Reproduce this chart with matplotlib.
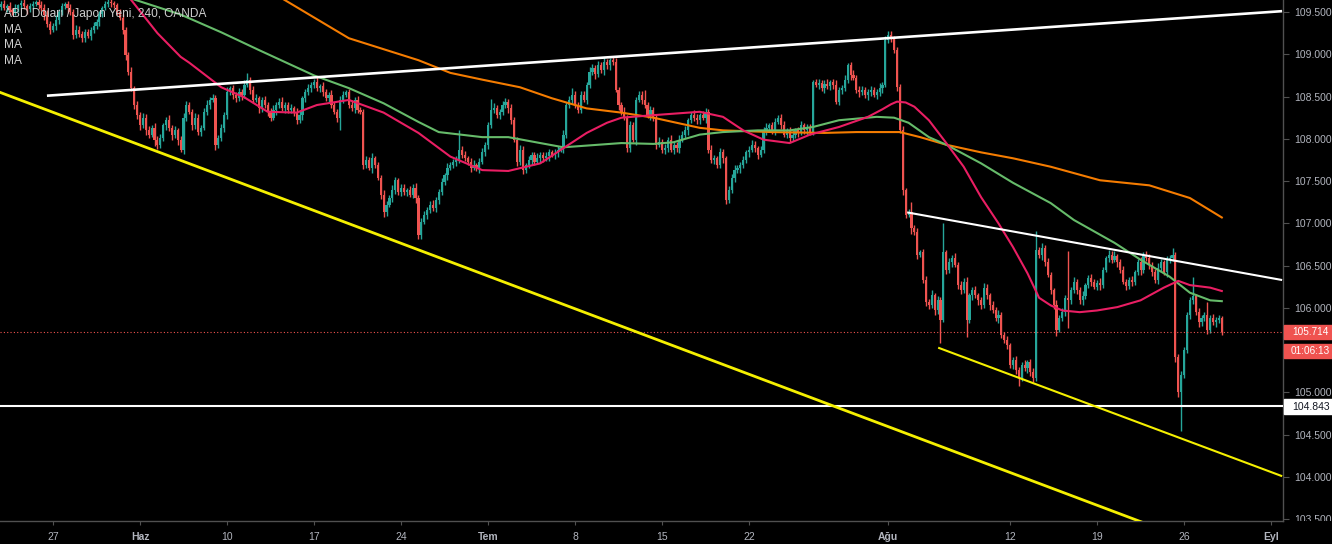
import numpy as np
import matplotlib
matplotlib.use('Agg')
import matplotlib.pyplot as plt
from matplotlib.patches import Rectangle
from matplotlib.transforms import Bbox

# ---------------- data (USD/JPY, 240 min bars) ----------------
first_open = 109.56
closes = [
109.60,109.55,109.57,109.52,109.50,109.55,109.58,109.61,109.57,109.53,
109.57,109.60,109.62,109.58,109.55,109.46,109.36,109.29,109.33,109.41,
109.50,109.57,109.60,109.55,109.50,109.23,109.29,109.24,109.19,109.26,
109.22,109.29,109.33,109.38,109.48,109.55,109.60,109.62,109.61,109.58,
109.50,109.43,109.29,108.99,108.79,108.60,108.40,108.28,108.16,108.25,
108.10,108.05,108.13,107.99,107.93,108.01,108.16,108.22,108.13,108.05,
108.10,107.99,107.87,108.25,108.40,108.32,108.16,108.25,108.08,108.13,
108.32,108.40,108.46,108.48,107.93,108.01,108.13,108.28,108.55,108.60,
108.52,108.48,108.55,108.52,108.64,108.70,108.58,108.46,108.48,108.36,
108.46,108.40,108.32,108.25,108.34,108.40,108.44,108.36,108.40,108.34,
108.36,108.32,108.22,108.28,108.48,108.55,108.60,108.64,108.67,108.60,
108.62,108.55,108.48,108.52,108.40,108.32,108.25,108.46,108.52,108.55,
108.40,108.36,108.46,108.34,108.32,107.69,107.75,107.66,107.77,107.69,
107.54,107.34,107.13,107.22,107.30,107.39,107.51,107.37,107.42,107.37,
107.39,107.34,107.42,107.30,106.86,107.02,107.10,107.16,107.22,107.18,
107.28,107.37,107.49,107.57,107.66,107.69,107.73,107.75,107.87,107.81,
107.77,107.73,107.66,107.69,107.66,107.73,107.84,107.93,108.16,108.34,
108.36,108.28,108.32,108.40,108.44,108.36,108.22,107.99,107.73,107.87,
107.63,107.69,107.75,107.81,107.73,107.77,107.81,107.77,107.80,107.84,
107.81,107.83,107.87,107.89,108.05,108.40,108.46,108.52,108.40,108.34,
108.52,108.46,108.64,108.79,108.84,108.77,108.87,108.81,108.91,108.87,
108.93,108.91,108.58,108.40,108.32,108.25,107.89,108.16,107.99,108.46,
108.52,108.46,108.40,108.28,108.34,108.25,107.93,107.96,107.87,107.89,
107.99,107.87,107.93,107.89,107.99,108.05,108.10,108.22,108.28,108.25,
108.22,108.28,108.25,108.32,107.87,107.75,107.77,107.69,107.84,107.77,
107.28,107.39,107.54,107.63,107.66,107.69,107.75,107.84,107.87,107.93,
107.89,107.81,107.87,108.10,108.13,108.16,108.10,108.20,108.25,108.16,
108.05,108.10,108.01,108.05,108.10,108.08,108.16,108.10,108.13,108.08,
108.67,108.64,108.66,108.60,108.65,108.62,108.67,108.64,108.44,108.58,
108.60,108.70,108.87,108.75,108.72,108.58,108.55,108.58,108.52,108.55,
108.58,108.52,108.55,108.60,108.64,109.17,109.23,109.19,109.05,108.61,
108.10,107.39,107.10,107.13,106.94,106.90,106.63,106.66,106.33,106.07,
106.03,106.15,105.97,106.09,105.86,106.66,106.45,106.54,106.59,106.51,
106.27,106.21,106.31,105.86,106.15,106.21,106.15,106.09,106.03,106.24,
106.15,106.03,105.97,105.88,105.92,105.68,105.62,105.56,105.32,105.38,
105.27,105.17,105.32,105.29,105.36,105.24,105.17,106.68,106.63,106.71,
106.54,106.39,106.21,106.03,105.74,105.88,105.95,106.12,106.09,106.21,
106.31,106.21,106.09,106.14,106.27,106.35,106.31,106.25,106.29,106.27,
106.45,106.59,106.63,106.57,106.61,106.54,106.45,106.31,106.26,106.33,
106.31,106.42,106.54,106.45,106.63,106.59,106.51,106.42,106.33,106.47,
106.54,106.42,106.57,106.59,106.63,105.42,105.00,105.21,105.50,105.92,
106.09,106.14,105.95,105.83,105.88,105.92,105.74,105.88,105.83,105.86,
105.88,105.714]

# wick extents beyond the body, in hundredths of a yen
wick_up = [
3,4,2,5,3,4,2,3,4,3, 4,3,2,3,5,4,6,3,4,5, 3,4,2,3,5,4,6,5,3,4, 4,3,5,4,3,2,3,4,3,2,
3,4,5,3,4,6,3,5,4,6, 4,5,3,6,4,5,3,4,6,3, 5,3,4,6,5,4,3,5,4,3, 4,6,3,5,4,3,5,4,6,3,
4,3,5,4,6,8,3,4,5,3, 4,5,3,4,6,3,4,5,3,4, 5,3,4,6,3,4,5,3,4,6, 3,5,4,3,6,4,3,5,4,3,
4,6,3,5,4,3,5,4,6,3, 4,3,5,4,3,6,4,3,5,4, 3,5,4,6,3,4,5,3,4,6, 3,4,5,3,6,4,3,5,23,4,
5,3,4,6,3,4,5,3,4,13, 6,4,3,5,4,3,5,4,3,6, 4,3,5,4,3,6,4,3,5,4, 3,5,4,3,6,4,5,8,4,3,
5,4,3,6,4,3,5,4,6,3, 3,4,5,3,4,6,3,5,4,3, 5,4,12,3,5,4,3,6,4,5, 3,5,4,3,6,4,5,3,4,6,
4,3,5,4,3,6,4,3,5,4, 3,5,4,6,3,4,5,3,4,6, 4,3,5,4,6,3,4,5,3,4, 5,3,4,6,3,4,5,3,4,5,
3,4,5,3,4,6,3,4,5,3, 4,5,3,4,6,3,4,5,3,4, 5,3,4,6,3,5,5,4,3,4, 4,5,3,4,12,4,5,3,4,5,
4,6,3,5,4,34,3,5,4,6, 3,5,4,6,3,4,5,3,4,6, 4,3,5,4,6,3,4,5,3,4, 5,3,4,6,3,4,5,23,4,6,
3,5,4,3,6,4,5,3,55,4, 5,3,4,6,3,4,5,3,4,6, 4,3,5,4,6,3,4,5,3,4, 5,3,4,6,3,4,5,3,4,6,
4,3,5,4,8,3,4,5,4,3, 4,23,3,5,4,3,15,4,5,3, 4,3]
wick_dn = [
4,3,5,2,4,3,5,4,3,5, 3,4,3,5,4,6,4,5,3,4, 5,3,4,6,3,5,4,3,5,4, 3,5,4,3,5,4,3,4,5,3,
4,3,5,6,4,3,5,4,6,3, 5,4,3,8,5,4,3,5,4,6, 4,6,3,5,4,3,5,4,3,5, 3,4,5,3,6,4,3,5,4,3,
5,4,3,6,4,3,5,4,3,6, 4,3,5,4,3,6,4,3,5,4, 3,5,4,3,6,4,3,5,4,3, 5,4,3,6,4,3,5,15,4,3,
4,3,5,4,3,5,4,3,6,4, 3,5,6,4,3,5,4,3,5,4, 5,3,4,6,5,4,3,5,4,3, 4,5,3,4,6,3,4,5,3,4,
3,4,5,3,4,6,3,4,5,3, 4,3,5,4,3,6,4,3,5,4, 5,4,3,6,4,3,5,4,3,6, 3,5,4,3,6,4,3,5,4,3,
4,3,5,4,3,6,4,3,5,4, 5,4,3,6,4,3,5,4,3,6, 3,5,4,3,6,4,5,3,4,5, 4,3,5,4,6,3,4,5,3,4,
5,4,3,6,4,3,5,4,3,5, 5,4,3,5,4,6,3,4,5,3, 4,5,3,4,6,3,4,5,3,4, 3,4,5,3,4,6,3,4,5,3,
4,3,5,4,6,3,4,5,3,4, 5,3,4,6,3,4,5,3,4,6, 4,3,5,4,6,3,4,5,3,4, 3,5,4,3,6,4,5,3,4,5,
4,3,5,4,27,3,5,4,6,3, 5,4,3,20,4,6,3,5,4,3, 4,5,3,4,6,3,4,5,3,4, 5,9,4,3,6,4,5,3,4,6,
4,3,5,4,7,3,4,5,33,4, 3,5,4,6,3,4,5,3,4,6, 4,3,5,4,3,6,4,3,5,4, 5,4,3,6,4,3,5,4,3,5,
4,3,5,4,3,6,5,46,4,3, 5,4,3,6,4,3,5,4,3,6, 4,3]

# moving averages (bar index, price)
ma_fast_k = [44,45,54,62,65,76,84,92,102,109,120,132,144,155,166,175,186,194,202,209,
             214,225,241,249,256,263,272,279,289,299,304,307,309,312,315,320,326,332,338,344,
             349,354,358,362,366,372,378,385,393,401,406,410,417,421]
ma_fast_p = [109.68,109.64,109.25,108.97,108.90,108.61,108.49,108.32,108.31,108.40,
             108.46,108.31,108.07,107.79,107.63,107.62,107.71,107.89,108.07,108.19,
             108.25,108.28,108.32,108.26,108.10,107.99,107.95,108.05,108.14,108.26,
             108.35,108.41,108.44,108.43,108.38,108.22,107.95,107.67,107.31,107.00,
             106.72,106.41,106.12,106.03,105.97,105.95,105.97,106.01,106.09,106.24,
             106.32,106.27,106.24,106.20]
ma_mid_k = [44,62,76,89,108,120,132,144,151,166,175,186,194,202,214,225,232,241,249,261,
            272,280,289,302,308,313,320,326,338,349,362,370,384,393,403,410,417,421]
ma_mid_p = [109.67,109.47,109.26,109.05,108.75,108.60,108.42,108.20,108.08,108.02,
            108.02,107.95,107.90,107.92,107.95,107.94,107.96,108.05,108.08,108.10,
            108.10,108.14,108.22,108.26,108.25,108.19,108.02,107.93,107.71,107.48,
            107.24,107.04,106.77,106.57,106.37,106.18,106.09,106.08]
ma_slow_k = [97,120,144,155,166,179,190,202,214,225,241,249,266,284,295,310,317,326,338,349,
             362,379,396,410,421]
ma_slow_p = [109.66,109.19,108.93,108.78,108.70,108.61,108.48,108.36,108.31,108.25,
             108.13,108.10,108.08,108.07,108.08,108.08,108.02,107.93,107.84,107.77,
             107.67,107.51,107.45,107.30,107.07]

# drawn trend lines (bar index, price)
res_line_k, res_line_p = [15.9, 441.8], [108.51, 109.51]
chan_top_k, chan_top_p = [312.5, 441.8], [107.13, 106.33]
yel_long_k, yel_long_p = [-0.3, 442.0], [108.55, 102.84]
yel_short_k, yel_short_p = [323.2, 441.8], [105.53, 104.01]
support_level = 104.843
last_price = 105.714
countdown = "01:06:13"

tick_k = [18, 48, 78, 108, 138, 168, 198, 228, 258, 306, 348, 378, 408, 438]
tick_lbl = ['27', 'Haz', '10', '17', '24', 'Tem', '8', '15', '22', 'Ağu', '12', '19', '26', 'Eyl']
month_lbl = {'Haz', 'Tem', 'Ağu', 'Eyl'}
price_ticks = [103.5, 104.0, 104.5, 105.0, 105.5, 106.0, 106.5, 107.0, 107.5, 108.0, 108.5, 109.0, 109.5]
hidden_price_ticks = {105.5}   # covered by the countdown box in the reference

title = "ABD Doları / Japon Yeni, 240, OANDA"
legend_rows = ["MA", "MA", "MA"]

# ---------------- styling ----------------
UP, DN = '#26a69a', '#ef5350'
FONT = ['Liberation Sans', 'DejaVu Sans']
plt.rcParams['font.family'] = FONT
LBL = '#b2b5be'
AXC = '#505050'

W, H = 1332, 544
fig = plt.figure(figsize=(W / 100, H / 100), dpi=100, facecolor='black')
ax = fig.add_axes([0, (H - 521) / H, 1283 / W, 521 / H])
ax.set_facecolor('black')

c = np.array(closes)
o = np.array([first_open] + closes[:-1])
idx = np.arange(len(c))
hi = np.maximum(o, c) + np.array(wick_up) / 100.0
lo = np.minimum(o, c) - np.array(wick_dn) / 100.0
cols = np.where(c >= o, UP, DN)
ax.vlines(idx, lo, hi, colors=cols, lw=1.0, zorder=2)
body = np.maximum(np.abs(c - o), 0.01)
ax.bar(idx, body, bottom=np.minimum(o, c), width=0.74, color=cols, lw=0, zorder=3)

ax.plot(ma_slow_k, ma_slow_p, color='#f57c00', lw=1.5, zorder=4)
ax.plot(ma_mid_k, ma_mid_p, color='#66bb6a', lw=1.5, zorder=4)
ax.plot(ma_fast_k, ma_fast_p, color='#e91e63', lw=1.5, zorder=4)

ax.axhline(last_price, color=DN, lw=0.8, ls=(0, (1, 2)), zorder=4)
ax.axhline(support_level, color='white', lw=1.5, zorder=5)
ax.plot(res_line_k, res_line_p, color='white', lw=1.9, zorder=5, solid_capstyle='butt')
ax.plot(chan_top_k, chan_top_p, color='white', lw=1.5, zorder=5, solid_capstyle='butt')
ax.plot(yel_long_k, yel_long_p, color='#f5f000', lw=2.0, zorder=5)
ax.plot(yel_short_k, yel_short_p, color='#f5f000', lw=1.5, zorder=5, solid_capstyle='butt')

ax.set_xlim(-0.28, 442.1)
ax.set_ylim(103.48, 109.642)

for s in ['left', 'top']:
    ax.spines[s].set_visible(False)
for s in ['right', 'bottom']:
    ax.spines[s].set_color(AXC)
    ax.spines[s].set_linewidth(1.0)

ax.set_xticks(tick_k)
ax.set_xticklabels(tick_lbl)
ax.tick_params(axis='x', length=3, color=AXC, labelcolor=LBL, labelsize=7.5, pad=5)
for t in ax.get_xticklabels():
    if t.get_text() in month_lbl:
        t.set_fontweight('bold')

ax.yaxis.tick_right()
ax.set_yticks(price_ticks)
ax.set_yticklabels(["" if p in hidden_price_ticks else f"{p:.3f}" for p in price_ticks])
ax.tick_params(axis='y', length=4, color=AXC, labelcolor=LBL, labelsize=7.5, pad=4)
clip = Bbox([[1283, H - 521], [W, H]])
for t in ax.get_yticklabels():
    t.set_clip_box(clip)
    t.set_clip_on(True)

def fy(ypx):
    return (H - ypx) / H

# right-hand price / countdown / level boxes
fig.add_artist(Rectangle((1284 / W, fy(339)), 48 / W, 14 / H, transform=fig.transFigure,
                         color=DN, zorder=10))
fig.text(1292 / W, fy(332), f"{last_price:.3f}", color='white', fontsize=7.2,
         va='center', ha='left', zorder=11)
fig.add_artist(Rectangle((1284 / W, fy(358)), 48 / W, 14 / H, transform=fig.transFigure,
                         color=DN, zorder=10))
fig.text(1291 / W, fy(351), countdown, color='white', fontsize=7.2,
         va='center', ha='left', zorder=11)
fig.add_artist(Rectangle((1284 / W, fy(414)), 48 / W, 15 / H, transform=fig.transFigure,
                         color='white', zorder=10))
fig.text(1292 / W, fy(406.5), f"{support_level:.3f}", color='#131722', fontsize=7.5,
         va='center', ha='left', zorder=11)

# legend texts
fig.text(4 / W, fy(14), title, color='#cfcfcf', fontsize=8.6, va='center', ha='left', zorder=11)
for i, r in enumerate(legend_rows):
    fig.text(4 / W, fy(30 + 15.5 * i), r, color='#cfcfcf', fontsize=8.6, va='center',
             ha='left', zorder=11)

fig.savefig('out.png', dpi=100, facecolor='black')
